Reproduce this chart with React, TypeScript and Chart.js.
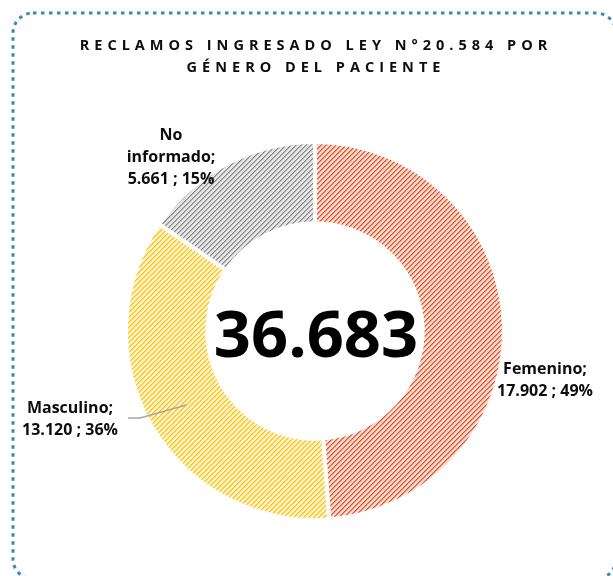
import React, { useEffect, useRef } from "react";
import { Chart, registerables } from "chart.js";

Chart.register(...registerables);

// ---- data ----
const categories = ["Femenino", "Masculino", "No informado"];
const categoryLabelLines = [["Femenino;"], ["Masculino;"], ["No", "informado;"]];
const values = [17902, 13120, 5661];
const titleLines = ["RECLAMOS INGRESADO LEY N°20.584 POR", "GÉNERO DEL PACIENTE"];

// ---- styles ----
const hatchFg = ["#E44D25", "#FFC000", "#858585"];
const hatchMid = ["#F08E72", "#FFD760", "#B4B4B4"];
const hatchBg = ["#FBD9CC", "#FFF3CD", "#E6E6E6"];
// label centre offsets relative to the doughnut centre
const labelOffsets = [
  { dx: 230, dy: 48 },
  { dx: -245, dy: 87 },
  { dx: -144, dy: -175 },
];
const showLeader = [false, true, false];

const FONT = "'Open Sans', 'Noto Sans', sans-serif";

function fmtThousands(n: number): string {
  const s = String(Math.round(n));
  return s.replace(/\B(?=(\d{3})+(?!\d))/g, ".");
}

function makePattern(ctx: CanvasRenderingContext2D, fg: string, mid: string, bg: string) {
  const size = 5;
  const c = document.createElement("canvas");
  c.width = size;
  c.height = size;
  const p = c.getContext("2d")!;
  p.fillStyle = bg;
  p.fillRect(0, 0, size, size);
  for (let y = 0; y < size; y++) {
    for (let x = 0; x < size; x++) {
      const m = (x + y) % size;
      if (m === 0) {
        p.fillStyle = fg;
        p.fillRect(x, y, 1, 1);
      } else if (m === 1) {
        p.fillStyle = mid;
        p.fillRect(x, y, 1, 1);
      }
    }
  }
  return ctx.createPattern(c, "repeat") as CanvasPattern;
}

const decorPlugin = {
  id: "decor",
  beforeDraw(chart: any) {
    const ctx: CanvasRenderingContext2D = chart.ctx;
    ctx.save();
    // dotted rounded frame
    ctx.strokeStyle = "#3B88BA";
    ctx.lineWidth = 3;
    ctx.setLineDash([3.5, 4.5]);
    ctx.beginPath();
    (ctx as any).roundRect(13, 13, 603, 566, 20);
    ctx.stroke();
    ctx.setLineDash([]);
    // title
    const spacing = 5;
    (ctx as any).letterSpacing = spacing + "px";
    ctx.fillStyle = "#0D0D0D";
    ctx.font = `bold 14.5px ${FONT}`;
    ctx.textAlign = "center";
    ctx.textBaseline = "alphabetic";
    titleLines.forEach((t, i) => {
      ctx.fillText(t, 313.5 + spacing / 2, 50 + i * 22);
    });
    (ctx as any).letterSpacing = "0px";
    ctx.restore();
  },
  afterDatasetsDraw(chart: any) {
    const ctx: CanvasRenderingContext2D = chart.ctx;
    const meta = chart.getDatasetMeta(0);
    const first = meta.data[0];
    const cx = first.x;
    const cy = first.y;
    const total = values.reduce((a, b) => a + b, 0);
    ctx.save();
    // centre total
    ctx.fillStyle = "#000";
    ctx.font = `bold 65px ${FONT}`;
    ctx.textAlign = "center";
    ctx.textBaseline = "alphabetic";
    ctx.fillText(fmtThousands(total), cx + 1, cy + 26);

    // data labels
    ctx.font = `bold 16px ${FONT}`;
    const lh = 22;
    values.forEach((v, i) => {
      const pct = Math.round((v / total) * 100) + "%";
      const lines = [...categoryLabelLines[i], `${fmtThousands(v)} ; ${pct}`];
      const lx = cx + labelOffsets[i].dx;
      const ly = cy + labelOffsets[i].dy;
      if (showLeader[i]) {
        const anchor = meta.data[i].tooltipPosition();
        ctx.strokeStyle = "#A6A6A6";
        ctx.lineWidth = 1.5;
        ctx.beginPath();
        ctx.moveTo(anchor.x, anchor.y);
        ctx.lineTo(lx + 70, ly);
        ctx.lineTo(lx + 58, ly);
        ctx.stroke();
      }
      ctx.fillStyle = "#0D0D0D";
      const top = ly - ((lines.length - 1) * lh) / 2;
      lines.forEach((t, j) => {
        ctx.fillText(t, lx, top + j * lh + 6);
      });
    });
    ctx.restore();
  },
};

export default function App() {
  const ref = useRef<HTMLCanvasElement>(null);
  useEffect(() => {
    const canvas = ref.current!;
    const ctx = canvas.getContext("2d")!;
    const patterns = values.map((_, i) => makePattern(ctx, hatchFg[i], hatchMid[i], hatchBg[i]));
    const chart = new Chart(canvas, {
      type: "doughnut",
      data: {
        labels: categories,
        datasets: [
          {
            data: values,
            backgroundColor: patterns,
            borderColor: "#FFFFFF",
            borderWidth: 4,
            hoverOffset: 0,
          },
        ],
      },
      options: {
        responsive: false,
        animation: false,
        radius: 189,
        cutout: "57%",
        rotation: 0,
        layout: { padding: { left: 17, right: 0, top: 86, bottom: 0 } },
        plugins: {
          legend: { display: false },
          tooltip: { enabled: false },
          title: { display: false },
        },
        events: [],
      } as any,
      plugins: [decorPlugin],
    });
    return () => chart.destroy();
  }, []);
  return (
    <div style={{ position: "fixed", left: 0, top: 0, width: 613, height: 576, background: "#fff" }}>
      <canvas ref={ref} width={613} height={576} style={{ width: 613, height: 576, display: "block" }} />
    </div>
  );
}
